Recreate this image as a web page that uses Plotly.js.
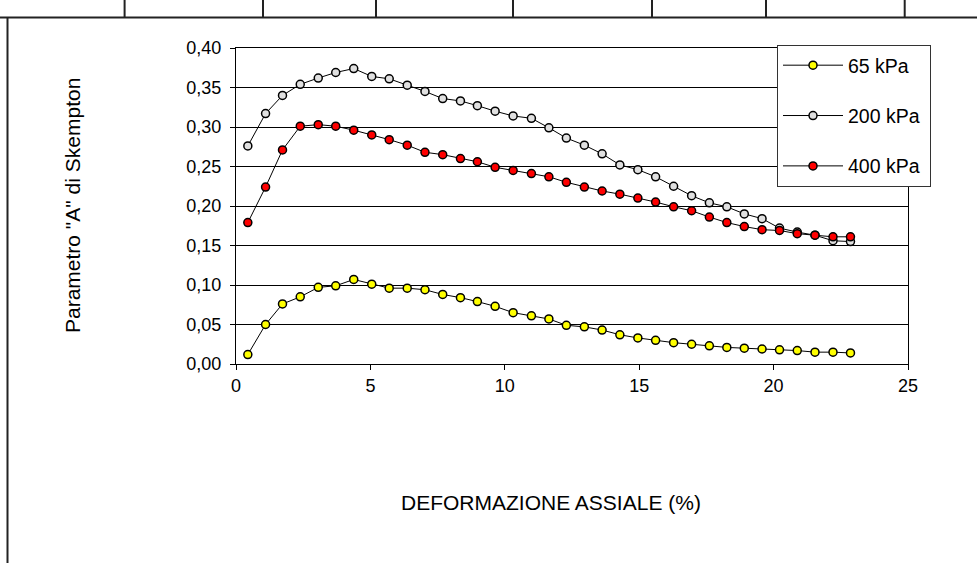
<!DOCTYPE html>
<html>
<head>
<meta charset="utf-8">
<script src="https://cdn.plot.ly/plotly-3.0.1.min.js"></script>
<style>html,body{margin:0;padding:0;background:#fff}#chart{width:977px;height:563px}</style>
</head>
<body>
<div id="chart"></div>
<script>
// Data
const deformazione = [0.44,1.10,1.73,2.39,3.06,3.71,4.38,5.05,5.70,6.37,7.03,7.69,8.35,8.98,9.64,10.31,10.99,11.64,12.29,12.96,13.62,14.28,14.95,15.61,16.28,16.95,17.61,18.26,18.91,19.57,20.22,20.88,21.54,22.21,22.86];
const a65 = [0.012,0.050,0.076,0.085,0.097,0.099,0.107,0.101,0.096,0.096,0.094,0.088,0.084,0.079,0.073,0.065,0.061,0.057,0.049,0.047,0.043,0.037,0.033,0.030,0.027,0.025,0.023,0.021,0.020,0.019,0.018,0.017,0.015,0.015,0.014];
const a200 = [0.276,0.317,0.340,0.354,0.362,0.369,0.374,0.364,0.361,0.353,0.345,0.336,0.333,0.327,0.320,0.314,0.311,0.299,0.286,0.277,0.266,0.252,0.246,0.237,0.225,0.213,0.204,0.199,0.190,0.184,0.172,0.167,0.163,0.156,0.155];
const a400 = [0.179,0.224,0.271,0.301,0.303,0.301,0.296,0.290,0.284,0.277,0.268,0.265,0.260,0.256,0.249,0.245,0.241,0.237,0.230,0.224,0.219,0.215,0.210,0.205,0.199,0.194,0.186,0.179,0.174,0.170,0.169,0.165,0.163,0.161,0.161];
const seriesNames = ["65 kPa","200 kPa","400 kPa"];
const seriesColors = ["#ffff00","#e0e0e0","#ff0000"];
const xTitle = "DEFORMAZIONE ASSIALE (%)";
const yTitle = 'Parametro "A" di Skempton';

const FONT = "Arial, 'Liberation Sans', sans-serif";
const W = 977, H = 563, ML = 236, MR = 69, MT = 48, MB = 199;
const PW = W - ML - MR, PH = H - MT - MB;
const px = v => (v - ML) / PW;
const py = v => (H - MB - v) / PH;

const allY = [a65, a200, a400];
const traces = allY.map((ys, i) => ({
  type: "scatter",
  mode: "lines+markers",
  x: deformazione,
  y: ys,
  name: seriesNames[i] + "\u00a0",
  legendgroup: "g" + i,
  line: {color: "#000", width: 1},
  marker: {symbol: "circle", size: 8, color: seriesColors[i], line: {color: "#000", width: 1.5}}
}));

const lineStyle = {color: "#222", width: 2};
const shapes = [];
shapes.push({type: "line", xref: "paper", yref: "paper", x0: px(0), x1: px(977), y0: py(17.4), y1: py(17.4), line: lineStyle});
[124.6, 263, 376, 513, 652, 766, 904.7].forEach(xv => {
  shapes.push({type: "line", xref: "paper", yref: "paper", x0: px(xv), x1: px(xv), y0: py(0), y1: py(17.4), line: lineStyle});
});
shapes.push({type: "line", xref: "paper", yref: "paper", x0: px(7.5), x1: px(7.5), y0: py(17.4), y1: py(563), line: lineStyle});

const layout = {
  width: W, height: H,
  margin: {l: ML, r: MR, t: MT, b: MB, pad: 0},
  paper_bgcolor: "#fff", plot_bgcolor: "#fff",
  font: {family: FONT, color: "#000", size: 18},
  separators: ",.",
  showlegend: true,
  xaxis: {
    range: [0, 25], dtick: 5, tick0: 0,
    showline: true, linecolor: "#000", linewidth: 1, mirror: true,
    ticks: "outside", ticklen: 5, tickcolor: "#000", tickwidth: 1,
    showgrid: false, zeroline: false,
    tickfont: {family: FONT, size: 18, color: "#000"}
  },
  yaxis: {
    range: [0, 0.4], dtick: 0.05, tick0: 0, tickformat: ".2f",
    showline: true, linecolor: "#000", linewidth: 1, mirror: true,
    ticks: "outside", ticklen: 5, tickcolor: "#000", tickwidth: 1,
    showgrid: true, gridcolor: "#000", gridwidth: 1, zeroline: false,
    ticklabelstandoff: 5,
    tickfont: {family: FONT, size: 18, color: "#000"}
  },
  legend: {
    x: px(777), y: py(45), xanchor: "left", yanchor: "top",
    bgcolor: "#fff", bordercolor: "#333", borderwidth: 1,
    font: {family: FONT, size: 19.5, color: "#000"},
    tracegroupgap: 22, itemwidth: 60
  },
  annotations: [
    {text: xTitle, xref: "paper", yref: "paper", x: px(551), y: py(502), xanchor: "center", yanchor: "middle", showarrow: false, font: {family: FONT, size: 21, color: "#000"}},
    {text: yTitle, xref: "paper", yref: "paper", x: px(72), y: py(206), xanchor: "center", yanchor: "middle", textangle: -90, showarrow: false, font: {family: FONT, size: 21, color: "#000"}}
  ],
  shapes: shapes
};

Plotly.newPlot("chart", traces, layout, {displayModeBar: false, staticPlot: true});
</script>
</body>
</html>
